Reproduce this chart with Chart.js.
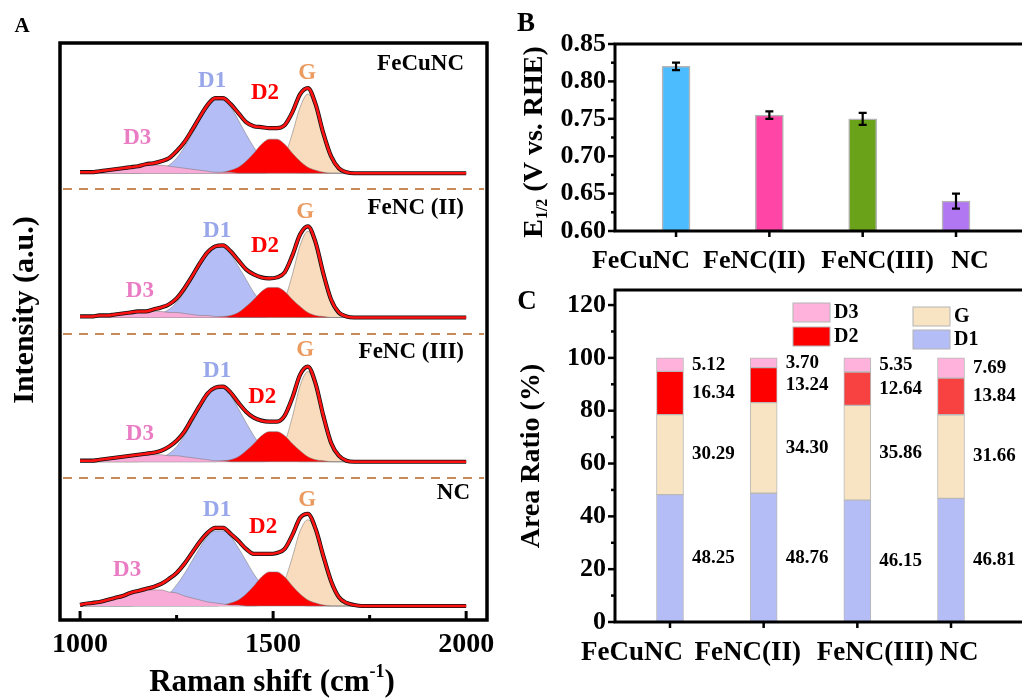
<!DOCTYPE html>
<html>
<head>
<meta charset="utf-8">
<script src="https://cdn.jsdelivr.net/npm/chart.js@4.4.1/dist/chart.umd.min.js"></script>
<style>
  html, body { margin: 0; padding: 0; background: #fff; overflow: hidden; }
  #wrap { position: relative; width: 1022px; height: 700px; overflow: hidden; }
  .box { position: absolute; }
</style>
</head>
<body>
<div id="wrap">
  <div class="box" style="left:0;top:0;width:500px;height:700px"><canvas id="chartA"></canvas></div>
  <div class="box" style="left:500px;top:0;width:560px;height:290px"><canvas id="chartB"></canvas></div>
  <div class="box" style="left:500px;top:280px;width:560px;height:420px"><canvas id="chartC"></canvas></div>
</div>
<script>
// ---- panel A: Raman spectra (intensity in a.u.) ----
const ramanShift = [1000, 1010, 1030, 1050, 1070, 1090, 1110, 1130, 1150, 1170, 1190, 1210, 1230,
  1250, 1270, 1290, 1310, 1330, 1350, 1370, 1390, 1410, 1430, 1450, 1470, 1490,
  1510, 1530, 1550, 1570, 1590, 1610, 1630, 1650, 1670, 1690, 1710, 1730, 1750,
  1770, 1790, 1810, 1830, 1850, 1870, 1890, 1910, 1930, 1950, 1970, 1990, 2000];
const ramanTicks = [1000, 1500, 2000];

const cuD3 = [.01, .01, .01, .02, .03, .04, .05, .06, .07, .08, .08, .08, .07,
  .06, .05, .04, .03, .02, .01, .01, .01, 0, 0, 0, 0, 0,
  0, 0, 0, 0, 0, 0, 0, 0, 0, 0, 0, 0, 0,
  0, 0, 0, 0, 0, 0, 0, 0, 0, 0, 0, 0, 0];
const cuD1 = [0, 0, 0, 0, 0, 0, 0, 0, 0, .01, .02, .04, .08,
  .15, .26, .39, .53, .66, .73, .73, .66, .53, .39, .26, .15, .08,
  .04, .02, .01, 0, 0, 0, 0, 0, 0, 0, 0, 0, 0,
  0, 0, 0, 0, 0, 0, 0, 0, 0, 0, 0, 0, 0];
const cuD2 = [0, 0, 0, 0, 0, 0, 0, 0, 0, 0, 0, 0, 0,
  0, 0, 0, 0, 0, 0, .01, .03, .06, .12, .20, .29, .34,
  .34, .29, .20, .12, .06, .03, .01, 0, 0, 0, 0, 0, 0,
  0, 0, 0, 0, 0, 0, 0, 0, 0, 0, 0, 0, 0];
const cuG = [0, 0, 0, 0, 0, 0, 0, 0, 0, 0, 0, 0, 0,
  0, 0, 0, 0, 0, 0, 0, 0, 0, 0, 0, 0, .01,
  .05, .17, .40, .66, .79, .66, .40, .17, .05, .01, 0, 0, 0,
  0, 0, 0, 0, 0, 0, 0, 0, 0, 0, 0, 0, 0];
const cuFit = [.01, .01, .01, .02, .03, .04, .05, .06, .07, .09, .10, .12, .15,
  .22, .31, .43, .56, .68, .75, .75, .69, .60, .51, .47, .46, .45,
  .45, .48, .61, .79, .85, .69, .40, .17, .05, .01, 0, 0, 0,
  0, 0, 0, 0, 0, 0, 0, 0, 0, 0, 0, 0, 0];

const f2D3 = [0, .01, .01, .02, .02, .03, .04, .05, .05, .06, .06, .06, .05,
  .05, .04, .03, .02, .02, .01, .01, 0, 0, 0, 0, 0, 0,
  0, 0, 0, 0, 0, 0, 0, 0, 0, 0, 0, 0, 0,
  0, 0, 0, 0, 0, 0, 0, 0, 0, 0, 0, 0, 0];
const f2D1 = [0, 0, 0, 0, 0, 0, 0, 0, 0, .01, .02, .04, .08,
  .15, .25, .38, .51, .63, .70, .70, .63, .51, .38, .25, .15, .08,
  .04, .02, .01, 0, 0, 0, 0, 0, 0, 0, 0, 0, 0,
  0, 0, 0, 0, 0, 0, 0, 0, 0, 0, 0, 0, 0];
const f2D2 = [0, 0, 0, 0, 0, 0, 0, 0, 0, 0, 0, 0, 0,
  0, 0, 0, 0, 0, 0, .01, .02, .05, .11, .18, .26, .30,
  .30, .26, .18, .11, .05, .02, .01, 0, 0, 0, 0, 0, 0,
  0, 0, 0, 0, 0, 0, 0, 0, 0, 0, 0, 0, 0];
const f2G = [0, 0, 0, 0, 0, 0, 0, 0, 0, 0, 0, 0, 0,
  0, 0, 0, 0, 0, 0, 0, 0, 0, 0, 0, 0, .01,
  .05, .18, .43, .72, .86, .72, .43, .18, .05, .01, 0, 0, 0,
  0, 0, 0, 0, 0, 0, 0, 0, 0, 0, 0, 0, 0];
const f2Fit = [.01, .01, .01, .02, .02, .03, .04, .05, .06, .06, .08, .10, .13,
  .19, .29, .41, .54, .65, .71, .72, .66, .57, .48, .43, .40, .39,
  .40, .45, .62, .83, .91, .75, .44, .18, .05, .01, 0, 0, 0,
  0, 0, 0, 0, 0, 0, 0, 0, 0, 0, 0, 0, 0];

const f3D3 = [.01, .01, .01, .02, .03, .04, .05, .06, .06, .07, .07, .07, .06,
  .06, .05, .04, .03, .02, .01, .01, 0, 0, 0, 0, 0, 0,
  0, 0, 0, 0, 0, 0, 0, 0, 0, 0, 0, 0, 0,
  0, 0, 0, 0, 0, 0, 0, 0, 0, 0, 0, 0, 0];
const f3D1 = [0, 0, 0, 0, 0, 0, 0, 0, 0, .01, .02, .04, .08,
  .15, .26, .39, .53, .66, .73, .73, .66, .53, .39, .26, .15, .08,
  .04, .02, .01, 0, 0, 0, 0, 0, 0, 0, 0, 0, 0,
  0, 0, 0, 0, 0, 0, 0, 0, 0, 0, 0, 0, 0];
const f3D2 = [0, 0, 0, 0, 0, 0, 0, 0, 0, 0, 0, 0, 0,
  0, 0, 0, 0, 0, 0, .01, .02, .05, .11, .18, .26, .30,
  .30, .26, .18, .11, .05, .02, .01, 0, 0, 0, 0, 0, 0,
  0, 0, 0, 0, 0, 0, 0, 0, 0, 0, 0, 0, 0];
const f3G = [0, 0, 0, 0, 0, 0, 0, 0, 0, 0, 0, 0, 0,
  0, 0, 0, 0, 0, 0, 0, 0, 0, 0, 0, 0, .01,
  .06, .19, .45, .76, .90, .76, .45, .19, .06, .01, 0, 0, 0,
  0, 0, 0, 0, 0, 0, 0, 0, 0, 0, 0, 0, 0];
const f3Fit = [.01, .01, .01, .02, .03, .04, .05, .06, .07, .08, .09, .11, .15,
  .21, .30, .43, .56, .68, .74, .75, .69, .59, .50, .44, .41, .40,
  .40, .46, .64, .87, .95, .78, .46, .19, .06, .01, 0, 0, 0,
  0, 0, 0, 0, 0, 0, 0, 0, 0, 0, 0, 0, 0];

const ncD3 = [.01, .02, .03, .04, .06, .08, .10, .13, .14, .16, .16, .16, .14,
  .13, .10, .08, .06, .04, .03, .02, .01, .01, 0, 0, 0, 0,
  0, 0, 0, 0, 0, 0, 0, 0, 0, 0, 0, 0, 0,
  0, 0, 0, 0, 0, 0, 0, 0, 0, 0, 0, 0, 0];
const ncD1 = [0, 0, 0, 0, 0, 0, 0, 0, .01, .02, .03, .07, .12,
  .21, .32, .45, .58, .69, .75, .75, .69, .58, .45, .32, .21, .12,
  .07, .03, .02, .01, 0, 0, 0, 0, 0, 0, 0, 0, 0,
  0, 0, 0, 0, 0, 0, 0, 0, 0, 0, 0, 0, 0];
const ncD2 = [0, 0, 0, 0, 0, 0, 0, 0, 0, 0, 0, 0, 0,
  0, 0, 0, 0, 0, 0, .01, .03, .06, .12, .20, .29, .34,
  .34, .29, .20, .12, .06, .03, .01, 0, 0, 0, 0, 0, 0,
  0, 0, 0, 0, 0, 0, 0, 0, 0, 0, 0, 0, 0];
const ncG = [0, 0, 0, 0, 0, 0, 0, 0, 0, 0, 0, 0, 0,
  0, 0, 0, 0, 0, 0, 0, 0, 0, 0, 0, .01, .03,
  .09, .25, .49, .75, .86, .75, .49, .25, .09, .03, .01, 0, 0,
  0, 0, 0, 0, 0, 0, 0, 0, 0, 0, 0, 0, 0];
const ncFit = [.01, .02, .03, .04, .06, .08, .10, .13, .15, .17, .19, .22, .27,
  .33, .42, .53, .64, .73, .78, .78, .72, .65, .57, .52, .52, .52,
  .53, .57, .71, .88, .92, .77, .50, .25, .09, .03, .01, 0, 0,
  0, 0, 0, 0, 0, 0, 0, 0, 0, 0, 0, 0, 0];

const spectraNames = ['FeCuNC', 'FeNC (II)', 'FeNC (III)', 'NC'];

// ---- panel B: half-wave potentials ----
const samples = ['FeCuNC', 'FeNC(II)', 'FeNC(III)', 'NC'];
const e12 = [0.820, 0.755, 0.750, 0.640];
const e12Err = [0.005, 0.005, 0.008, 0.010];
const e12Ticks = [0.60, 0.65, 0.70, 0.75, 0.80, 0.85];

// ---- panel C: area ratios (%) ----
const areaD1 = [48.25, 48.76, 46.15, 46.81];
const areaG = [30.29, 34.30, 35.86, 31.66];
const areaD2 = [16.34, 13.24, 12.64, 13.84];
const areaD3 = [5.12, 3.70, 5.35, 7.69];
const areaTicks = [0, 20, 40, 60, 80, 100, 120];

const FONT = '"Liberation Serif", "Times New Roman", serif';
Chart.defaults.font.family = FONT;
Chart.defaults.font.weight = 'bold';
Chart.defaults.color = '#000';

const colD1 = '#b5bdf7', colD2 = '#ff0000', colD3 = '#f9abd8', colG = '#f9dbbd';

function font(size) { return 'bold ' + size + 'px ' + FONT; }

// draws a run of text pieces (for sub/superscripts), centred on cx, cy
function richText(ctx, parts, cx, cy, angle) {
  ctx.save();
  ctx.translate(cx, cy);
  ctx.rotate(angle || 0);
  ctx.textBaseline = 'middle';
  ctx.textAlign = 'left';
  ctx.fillStyle = '#000';
  let w = 0;
  parts.forEach(p => { ctx.font = font(p.size); p.w = ctx.measureText(p.t).width; w += p.w; });
  let x = -w / 2;
  parts.forEach(p => { ctx.font = font(p.size); ctx.fillText(p.t, x, p.dy || 0); x += p.w; });
  ctx.restore();
}

function label(ctx, text, x, y, size, color, align) {
  ctx.font = font(size);
  ctx.fillStyle = color || '#000';
  ctx.textAlign = align || 'center';
  ctx.textBaseline = 'middle';
  ctx.fillText(text, x, y);
}

// keep the plot box where the layout padding puts it
function noLabelPadding(s) {
  s.paddingTop = 0; s.paddingBottom = 0; s.paddingLeft = 0; s.paddingRight = 0;
}

// ================= Panel A =================
const pts = arr => ramanShift.map((x, i) => ({x: x, y: arr[i]}));
const spectra = [
  {d3: cuD3, d1: cuD1, d2: cuD2, g: cuG, fit: cuFit},
  {d3: f2D3, d1: f2D1, d2: f2D2, g: f2G, fit: f2Fit},
  {d3: f3D3, d1: f3D1, d2: f3D2, g: f3G, fit: f3Fit},
  {d3: ncD3, d1: ncD1, d2: ncD2, g: ncG, fit: ncFit}
];

const dsA = [];
spectra.forEach((s, k) => {
  const yAxisID = 'y' + k;
  const peak = (arr, color, order) => ({
    data: pts(arr), yAxisID, order, fill: 'origin', backgroundColor: color,
    borderColor: 'rgba(120,120,120,0.55)', borderWidth: 1
  });
  dsA.push({data: pts(s.fit), yAxisID, order: 0, fill: false, borderColor: '#ff1212', borderWidth: 2.6});
  dsA.push({data: pts(s.fit), yAxisID, order: 1, fill: false, borderColor: '#111', borderWidth: 4.2});
  dsA.push(peak(s.d3, colD3, 2));
  dsA.push(peak(s.d2, colD2, 3));
  dsA.push(peak(s.g, colG, 4));
  dsA.push(peak(s.d1, colD1, 5));
});

function stackedAxis(weight) {
  return {
    type: 'linear', position: 'left', stack: 'raman', stackWeight: 1, weight: weight,
    min: -0.14, max: 1.3,
    grid: {display: false, drawTicks: false}, border: {display: false},
    ticks: {display: false},
    afterFit: s => { s.width = 0; noLabelPadding(s); }
  };
}

// label spots in data units of each sub-panel
const peakLabelSpots = [
  [[1148, .35], [1342, .92], [1479, .80], [1588, 1.00]],
  [[1155, .26], [1355, .86], [1479, .71], [1583, 1.05]],
  [[1155, .28], [1355, .91], [1472, .65], [1583, 1.11]],
  [[1122, .36], [1355, .96], [1474, .79], [1588, 1.06]]
];
const peakNames = ['D3', 'D1', 'D2', 'G'];
const peakTextColors = ['#ea7cc4', '#98a6ea', '#ff0000', '#eb9b5f'];

const panelA = {
  id: 'panelA',
  afterDraw(chart) {
    const {ctx, chartArea: a, scales} = chart;
    const x = scales.x;
    ctx.save();
    // dashed dividers between the four spectra
    ctx.strokeStyle = '#c98a58';
    ctx.lineWidth = 2;
    ctx.setLineDash([9, 7]);
    for (let k = 1; k < 4; k++) {
      const y = Math.round(scales['y' + k].top) + 2;
      ctx.beginPath();
      ctx.moveTo(a.left + 3, y);
      ctx.lineTo(a.right - 3, y);
      ctx.stroke();
    }
    ctx.setLineDash([]);
    // frame
    ctx.strokeStyle = '#000';
    ctx.lineWidth = 3.5;
    ctx.strokeRect(a.left, a.top, a.right - a.left, a.bottom - a.top);
    // inward ticks
    ctx.lineWidth = 3;
    [1000, 1250, 1500, 1750, 2000].forEach((v, i) => {
      const px = x.getPixelForValue(v);
      ctx.beginPath();
      ctx.moveTo(px, a.bottom);
      ctx.lineTo(px, a.bottom - (i % 2 ? 5 : 9));
      ctx.stroke();
    });
    // sample names and peak labels
    spectra.forEach((s, k) => {
      const y = scales['y' + k];
      label(ctx, spectraNames[k], k === 3 ? a.right - 17 : a.right - 23, y.top + (k === 3 ? 17 : 21), 23, '#000', 'right');
      peakLabelSpots[k].forEach((p, j) => {
        label(ctx, peakNames[j], x.getPixelForValue(p[0]), y.getPixelForValue(p[1]), 23, peakTextColors[j]);
      });
    });
    // panel letter and axis titles
    label(ctx, 'A', 22, 27, 21);
    richText(ctx, [{t: 'Intensity (a.u.)', size: 30}], 25, 310, -Math.PI / 2);
    richText(ctx, [{t: 'Raman shift (cm', size: 31}, {t: '-1', size: 18, dy: -11}, {t: ')', size: 31}], 272, 683);
    ctx.restore();
  }
};

new Chart(document.getElementById('chartA'), {
  type: 'line',
  data: {datasets: dsA},
  options: {
    animation: false,
    responsive: true,
    maintainAspectRatio: false,
    layout: {padding: {left: 60, top: 43, right: 13, bottom: 0}},
    elements: {point: {radius: 0}, line: {cubicInterpolationMode: 'monotone'}},
    scales: {
      x: {
        type: 'linear', min: 948, max: 2054,
        grid: {display: false, drawTicks: false}, border: {display: false},
        afterBuildTicks: s => { s.ticks = ramanTicks.map(v => ({value: v})); },
        afterFit: s => { s.height = 80; noLabelPadding(s); },
        ticks: {font: {size: 28, weight: 'bold'}, padding: 8, autoSkip: false, maxRotation: 0, callback: v => String(v)}
      },
      y0: stackedAxis(4),
      y1: stackedAxis(3),
      y2: stackedAxis(2),
      y3: stackedAxis(1)
    },
    plugins: {legend: {display: false}, tooltip: {enabled: false}}
  },
  plugins: [panelA]
});

// ================= Panel B =================
const barColorsB = ['#4dbcff', '#ff45a6', '#6aa21a', '#b177f2'];
const nameShiftB = [-35, -15, 15, 14];

function axesFrame(ctx, a, y, majors, minors, barXs) {
  ctx.strokeStyle = '#000';
  ctx.lineWidth = 3;
  ctx.beginPath();
  ctx.moveTo(a.right + 20, a.top);
  ctx.lineTo(a.left, a.top);
  ctx.lineTo(a.left, a.bottom);
  ctx.lineTo(a.right + 20, a.bottom);
  ctx.stroke();
  ctx.lineWidth = 2.5;
  majors.forEach(v => {
    const py = y.getPixelForValue(v);
    ctx.beginPath(); ctx.moveTo(a.left, py); ctx.lineTo(a.left - 7, py); ctx.stroke();
  });
  minors.forEach(v => {
    const py = y.getPixelForValue(v);
    ctx.beginPath(); ctx.moveTo(a.left, py); ctx.lineTo(a.left - 4, py); ctx.stroke();
  });
  barXs.forEach(px => {
    ctx.beginPath(); ctx.moveTo(px, a.bottom); ctx.lineTo(px, a.bottom + 6); ctx.stroke();
  });
}

const panelB = {
  id: 'panelB',
  afterDraw(chart) {
    const {ctx, chartArea: a, scales} = chart;
    const bars = chart.getDatasetMeta(0).data;
    ctx.save();
    axesFrame(ctx, a, scales.y, e12Ticks, [0.625, 0.675, 0.725, 0.775, 0.825], bars.map(b => b.x));
    // error bars
    ctx.strokeStyle = '#000';
    ctx.lineWidth = 2.2;
    bars.forEach((b, i) => {
      const top = scales.y.getPixelForValue(e12[i] + e12Err[i]);
      const bot = scales.y.getPixelForValue(e12[i] - e12Err[i]);
      ctx.beginPath();
      ctx.moveTo(b.x, top); ctx.lineTo(b.x, bot);
      ctx.moveTo(b.x - 4, top); ctx.lineTo(b.x + 4, top);
      ctx.moveTo(b.x - 4, bot); ctx.lineTo(b.x + 4, bot);
      ctx.stroke();
    });
    bars.forEach((b, i) => label(ctx, samples[i], b.x + nameShiftB[i], 261, 26));
    label(ctx, 'B', 26, 24, 27);
    richText(ctx, [{t: 'E', size: 28}, {t: '1/2', size: 16, dy: 8}, {t: ' (V vs. RHE)', size: 28}], 35, 142, -Math.PI / 2);
    ctx.restore();
  }
};

new Chart(document.getElementById('chartB'), {
  type: 'bar',
  data: {
    datasets: [{
      data: samples.map((s, i) => ({x: i + 1, y: e12[i]})),
      backgroundColor: barColorsB,
      borderColor: '#b4b4b4',
      borderWidth: 1.5,
      barThickness: 28
    }]
  },
  options: {
    animation: false,
    responsive: true,
    maintainAspectRatio: false,
    layout: {padding: {left: 0, top: 44, right: 20, bottom: 0}},
    scales: {
      x: {
        type: 'linear', min: 0.346, max: 4.9, offset: false,
        grid: {display: false, drawTicks: false, offset: false}, border: {display: false},
        ticks: {display: false},
        afterFit: s => { s.height = 59; noLabelPadding(s); }
      },
      y: {
        min: 0.6, max: 0.85,
        grid: {display: false, drawTicks: false}, border: {display: false},
        afterBuildTicks: s => { s.ticks = e12Ticks.map(v => ({value: v})); },
        afterFit: s => { s.width = 115; noLabelPadding(s); },
        ticks: {font: {size: 26, weight: 'bold'}, padding: 9, callback: v => v.toFixed(2)}
      }
    },
    plugins: {legend: {display: false}, tooltip: {enabled: false}}
  },
  plugins: [panelB]
});

// ================= Panel C =================
const nameShiftC = [-38, -16, 18, 8];
const areaSeries = [
  {name: 'D1', data: areaD1, color: colD1},
  {name: 'G', data: areaG, color: '#f8e4c2'},
  {name: 'D2', data: areaD2, color: ['#ff0000', '#ff0000', '#f84242', '#f84242']},
  {name: 'D3', data: areaD3, color: '#ffb3dc'}
];

const panelC = {
  id: 'panelC',
  afterDraw(chart) {
    const {ctx, chartArea: a, scales} = chart;
    const bars = chart.getDatasetMeta(0).data;
    ctx.save();
    axesFrame(ctx, a, scales.y, areaTicks, [10, 30, 50, 70, 90, 110], bars.map(b => b.x));
    // value labels beside each segment
    bars.forEach((b, i) => {
      let base = 0;
      areaSeries.forEach(s => {
        const v = s.data[i];
        label(ctx, v.toFixed(2), b.x + 22, scales.y.getPixelForValue(base + v / 2), 19, '#000', 'left');
        base += v;
      });
    });
    // legend, two columns
    const legend = [
      ['D3', '#ffb3dc', 293, 23], ['D2', '#ff0000', 293, 47],
      ['G', '#f8e4c2', 413, 27], ['D1', colD1, 413, 50]
    ];
    legend.forEach(([t, c, lx, ly]) => {
      ctx.fillStyle = c;
      ctx.fillRect(lx, ly, 37, 19);
      ctx.strokeStyle = '#b4b4b4';
      ctx.lineWidth = 1;
      ctx.strokeRect(lx, ly, 37, 19);
      label(ctx, t, lx + 41, ly + 10, 20, '#000', 'left');
    });
    bars.forEach((b, i) => label(ctx, samples[i], b.x + nameShiftC[i], 373, 27));
    label(ctx, 'C', 27, 22, 27);
    richText(ctx, [{t: 'Area Ratio (%)', size: 28}], 32, 176, -Math.PI / 2);
    ctx.restore();
  }
};

new Chart(document.getElementById('chartC'), {
  type: 'bar',
  data: {
    datasets: areaSeries.map(s => ({
      label: s.name,
      data: samples.map((n, i) => ({x: i + 1, y: s.data[i]})),
      backgroundColor: s.color,
      borderColor: '#b8b8b8',
      borderWidth: 1,
      borderSkipped: false,
      barThickness: 27
    }))
  },
  options: {
    animation: false,
    responsive: true,
    maintainAspectRatio: false,
    layout: {padding: {left: 0, top: 10, right: 20, bottom: 0}},
    scales: {
      x: {
        type: 'linear', min: 0.413, max: 4.95, stacked: true, offset: false,
        grid: {display: false, drawTicks: false, offset: false}, border: {display: false},
        ticks: {display: false},
        afterFit: s => { s.height = 78; noLabelPadding(s); }
      },
      y: {
        min: 0, max: 125.7, stacked: true,
        grid: {display: false, drawTicks: false}, border: {display: false},
        afterBuildTicks: s => { s.ticks = areaTicks.map(v => ({value: v})); },
        afterFit: s => { s.width = 115; noLabelPadding(s); },
        ticks: {font: {size: 26, weight: 'bold'}, padding: 9}
      }
    },
    plugins: {legend: {display: false}, tooltip: {enabled: false}}
  },
  plugins: [panelC]
});
</script>
</body>
</html>
